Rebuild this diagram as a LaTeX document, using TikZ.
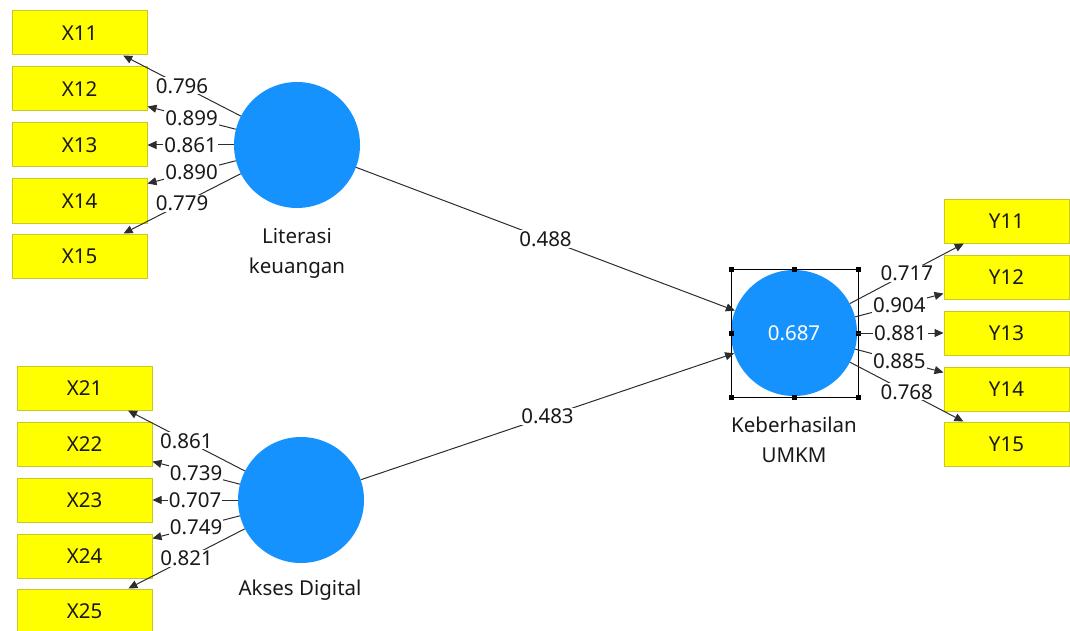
\documentclass[tikz,border=0pt]{standalone}
\usepackage{fontspec}
\setmainfont{Noto Sans}
\usetikzlibrary{arrows.meta}
\definecolor{lvblue}{RGB}{22,146,255}
\definecolor{indyellow}{RGB}{255,255,0}
\definecolor{indborder}{RGB}{200,200,40}
\definecolor{pathgray}{RGB}{45,45,45}

\begin{document}
\begin{tikzpicture}[x=1pt, y=-1pt,
    every node/.style = {font=\fontsize{20.5}{30}\selectfont, text=black!90},
    ind/.style = {draw=indborder, fill=indyellow, line width=1pt, minimum width=135pt, minimum height=44pt, inner sep=0pt},
    latent/.style = {circle, fill=lvblue, minimum size=126pt, inner sep=0pt},
    load/.style = {draw=pathgray, line width=1pt, -{Triangle[length=9pt,width=8pt]}},
    val/.style = {midway, fill=white, inner sep=1pt},
    handle/.style = {fill=black, minimum size=5pt, inner sep=0pt}]
            \useasboundingbox (0,0) rectangle (1070,631);
            % latent variables
            \node[latent] (lit) at (297,145) {};
            \node[latent] (aks) at (301,500) {};
            \node[latent] (keb) at (794,333) {\textcolor{white}{0.687}};
            \node[align=center] (litlab) at (297,253) {Literasi\\keuangan};
            \node (akslab) at (300,590) {Akses Digital};
            \node[align=center] (keblab) at (794,440) {Keberhasilan\\UMKM};
            % selection frame with handles
            \draw[black, line width=1pt] (731,269) rectangle (858,397);
            \node[handle] (h1) at (731,269) {};
            \node[handle] (h2) at (794.5,269) {};
            \node[handle] (h3) at (858,269) {};
            \node[handle] (h4) at (731,333) {};
            \node[handle] (h5) at (858,333) {};
            \node[handle] (h6) at (731,397) {};
            \node[handle] (h7) at (794.5,397) {};
            \node[handle] (h8) at (858,397) {};
            % indicators
            \node[ind] (x11) at (79.5,33) {X11};
            \node[ind] (x12) at (79.5,89) {X12};
            \node[ind] (x13) at (79.5,145) {X13};
            \node[ind] (x14) at (79.5,201) {X14};
            \node[ind] (x15) at (79.5,256) {X15};
            \node[ind] (x21) at (84.5,388) {X21};
            \node[ind] (x22) at (84.5,444) {X22};
            \node[ind] (x23) at (84.5,500) {X23};
            \node[ind] (x24) at (84.5,556) {X24};
            \node[ind] (x25) at (84.5,611) {X25};
            \node[ind, minimum width=125pt] (y11) at (1006.5,221) {Y11};
            \node[ind, minimum width=125pt] (y12) at (1006.5,277) {Y12};
            \node[ind, minimum width=125pt] (y13) at (1006.5,333) {Y13};
            \node[ind, minimum width=125pt] (y14) at (1006.5,389) {Y14};
            \node[ind, minimum width=125pt] (y15) at (1006.5,444) {Y15};
            % outer loadings
            \draw[load] (lit) -- node[val] {0.796} (x11);
            \draw[load] (lit) -- node[val] {0.899} (x12);
            \draw[load] (lit) -- node[val] {0.861} (x13);
            \draw[load] (lit) -- node[val] {0.890} (x14);
            \draw[load] (lit) -- node[val] {0.779} (x15);
            \draw[load] (aks) -- node[val] {0.861} (x21);
            \draw[load] (aks) -- node[val] {0.739} (x22);
            \draw[load] (aks) -- node[val] {0.707} (x23);
            \draw[load] (aks) -- node[val] {0.749} (x24);
            \draw[load] (aks) -- node[val] {0.821} (x25);
            \draw[load] (keb) -- node[val] {0.717} (y11);
            \draw[load] (keb) -- node[val] {0.904} (y12);
            \draw[load] (keb) -- node[val] {0.881} (y13);
            \draw[load] (keb) -- node[val] {0.885} (y14);
            \draw[load] (keb) -- node[val] {0.768} (y15);
            % path coefficients
            \draw[load] (lit) -- node[val] {0.488} (keb);
            \draw[load] (aks) -- node[val] {0.483} (keb);

        \end{tikzpicture}
\end{document}
